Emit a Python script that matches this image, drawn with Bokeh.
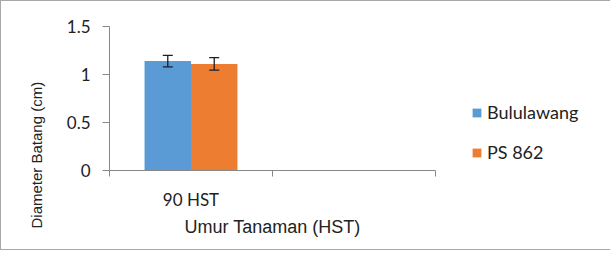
import numpy as np
from bokeh.plotting import figure
from bokeh.models import (ColumnDataSource, Range1d, FixedTicker, Whisker, TeeHead,
                          Legend, LegendItem, Title)
from bokeh.embed import file_html
from bokeh.resources import INLINE

# ---- data ----
categories = ["90 HST"]
series_names = ["Bululawang", "PS 862"]
bululawang = [1.14]
ps862 = [1.11]
err_bululawang = [0.06]
err_ps862 = [0.065]
ytick_values = [0, 0.5, 1, 1.5]
ytick_labels = ["0", "0.5", "1", "1.5"]
n_slots = 2  # category slots on the axis (second one empty)

colors = ["#5B9BD5", "#ED7D31"]
bar_w = 0.285

p = figure(frame_width=326, frame_height=144, output_backend="svg", toolbar_location=None,
           x_range=Range1d(0, n_slots), y_range=Range1d(0, 1.5),
           min_border_left=108, min_border_right=140, min_border_top=25,
           min_border_bottom=79)
p.styles = {"border": "1px solid #a8a8a8", "box-sizing": "border-box"}
p.outline_line_color = None
p.xgrid.visible = False
p.ygrid.visible = False
p.background_fill_color = "white"
p.border_fill_color = "white"

centers = np.arange(len(categories)) + 0.5
renderers = []
for i, (vals, errs) in enumerate([(bululawang, err_bululawang), (ps862, err_ps862)]):
    xs = centers + (i - 0.5) * bar_w
    src = ColumnDataSource(dict(x=xs, top=vals,
                                upper=np.array(vals) + np.array(errs),
                                lower=np.array(vals) - np.array(errs)))
    r = p.vbar(x="x", top="top", width=bar_w, bottom=0, source=src,
               fill_color=colors[i], line_color=None)
    renderers.append(r)
    w = Whisker(base="x", upper="upper", lower="lower", source=src,
                line_color="#1c1c2a", line_width=1.3, level="overlay",
                upper_head=TeeHead(size=10, line_color="#1c1c2a", line_width=1.3),
                lower_head=TeeHead(size=10, line_color="#1c1c2a", line_width=1.3))
    p.add_layout(w)

# x axis
xa = p.xaxis[0]
xa.ticker = FixedTicker(ticks=list(centers), minor_ticks=list(range(n_slots + 1)))
xa.major_label_overrides = {float(c): lab for c, lab in zip(centers, categories)}
xa.major_tick_out = 0
xa.major_tick_in = 0
xa.minor_tick_out = 6
xa.minor_tick_in = 0
xa.minor_tick_line_color = "#888888"
xa.axis_line_color = "#888888"
xa.major_label_text_font = "Lato"
xa.major_label_text_font_size = "17px"
xa.major_label_text_color = "#222222"
xa.major_label_standoff = 12
xa.axis_label = "Umur Tanaman (HST)"
xa.axis_label_text_font = "Liberation Sans"
xa.axis_label_text_font_style = "normal"
xa.axis_label_text_font_size = "18px"
xa.axis_label_text_color = "#222222"
xa.axis_label_standoff = 4

# y axis
ya = p.yaxis[0]
ya.ticker = FixedTicker(ticks=ytick_values)
ya.major_label_overrides = {float(v): l for v, l in zip(ytick_values, ytick_labels)}
ya.major_tick_out = 7
ya.major_tick_in = 0
ya.minor_tick_line_color = None
ya.major_tick_line_color = "#888888"
ya.axis_line_color = "#888888"
ya.major_label_text_font = "Lato"
ya.major_label_text_font_size = "17px"
ya.major_label_text_color = "#222222"
ya.major_label_standoff = 12

# y title as a side title (shifted below centre like the reference)
ytitle = Title(text="Diameter Batang (cm)", align="left", offset=-58, standoff=38,
               text_font="Liberation Sans", text_font_style="normal",
               text_font_size="15px", text_color="#222222")
p.add_layout(ytitle, "left")

legend = Legend(items=[LegendItem(label=n, renderers=[r]) for n, r in zip(series_names, renderers)],
                location=(36, 7), border_line_color=None, background_fill_alpha=0,
                padding=0, margin=0, glyph_width=11, glyph_height=11, label_height=11,
                spacing=18, label_standoff=5, label_text_font="Lato",
                label_text_font_size="18px", label_text_color="#222222")
p.add_layout(legend, "right")

open("out.html", "w").write(file_html(p, INLINE))
